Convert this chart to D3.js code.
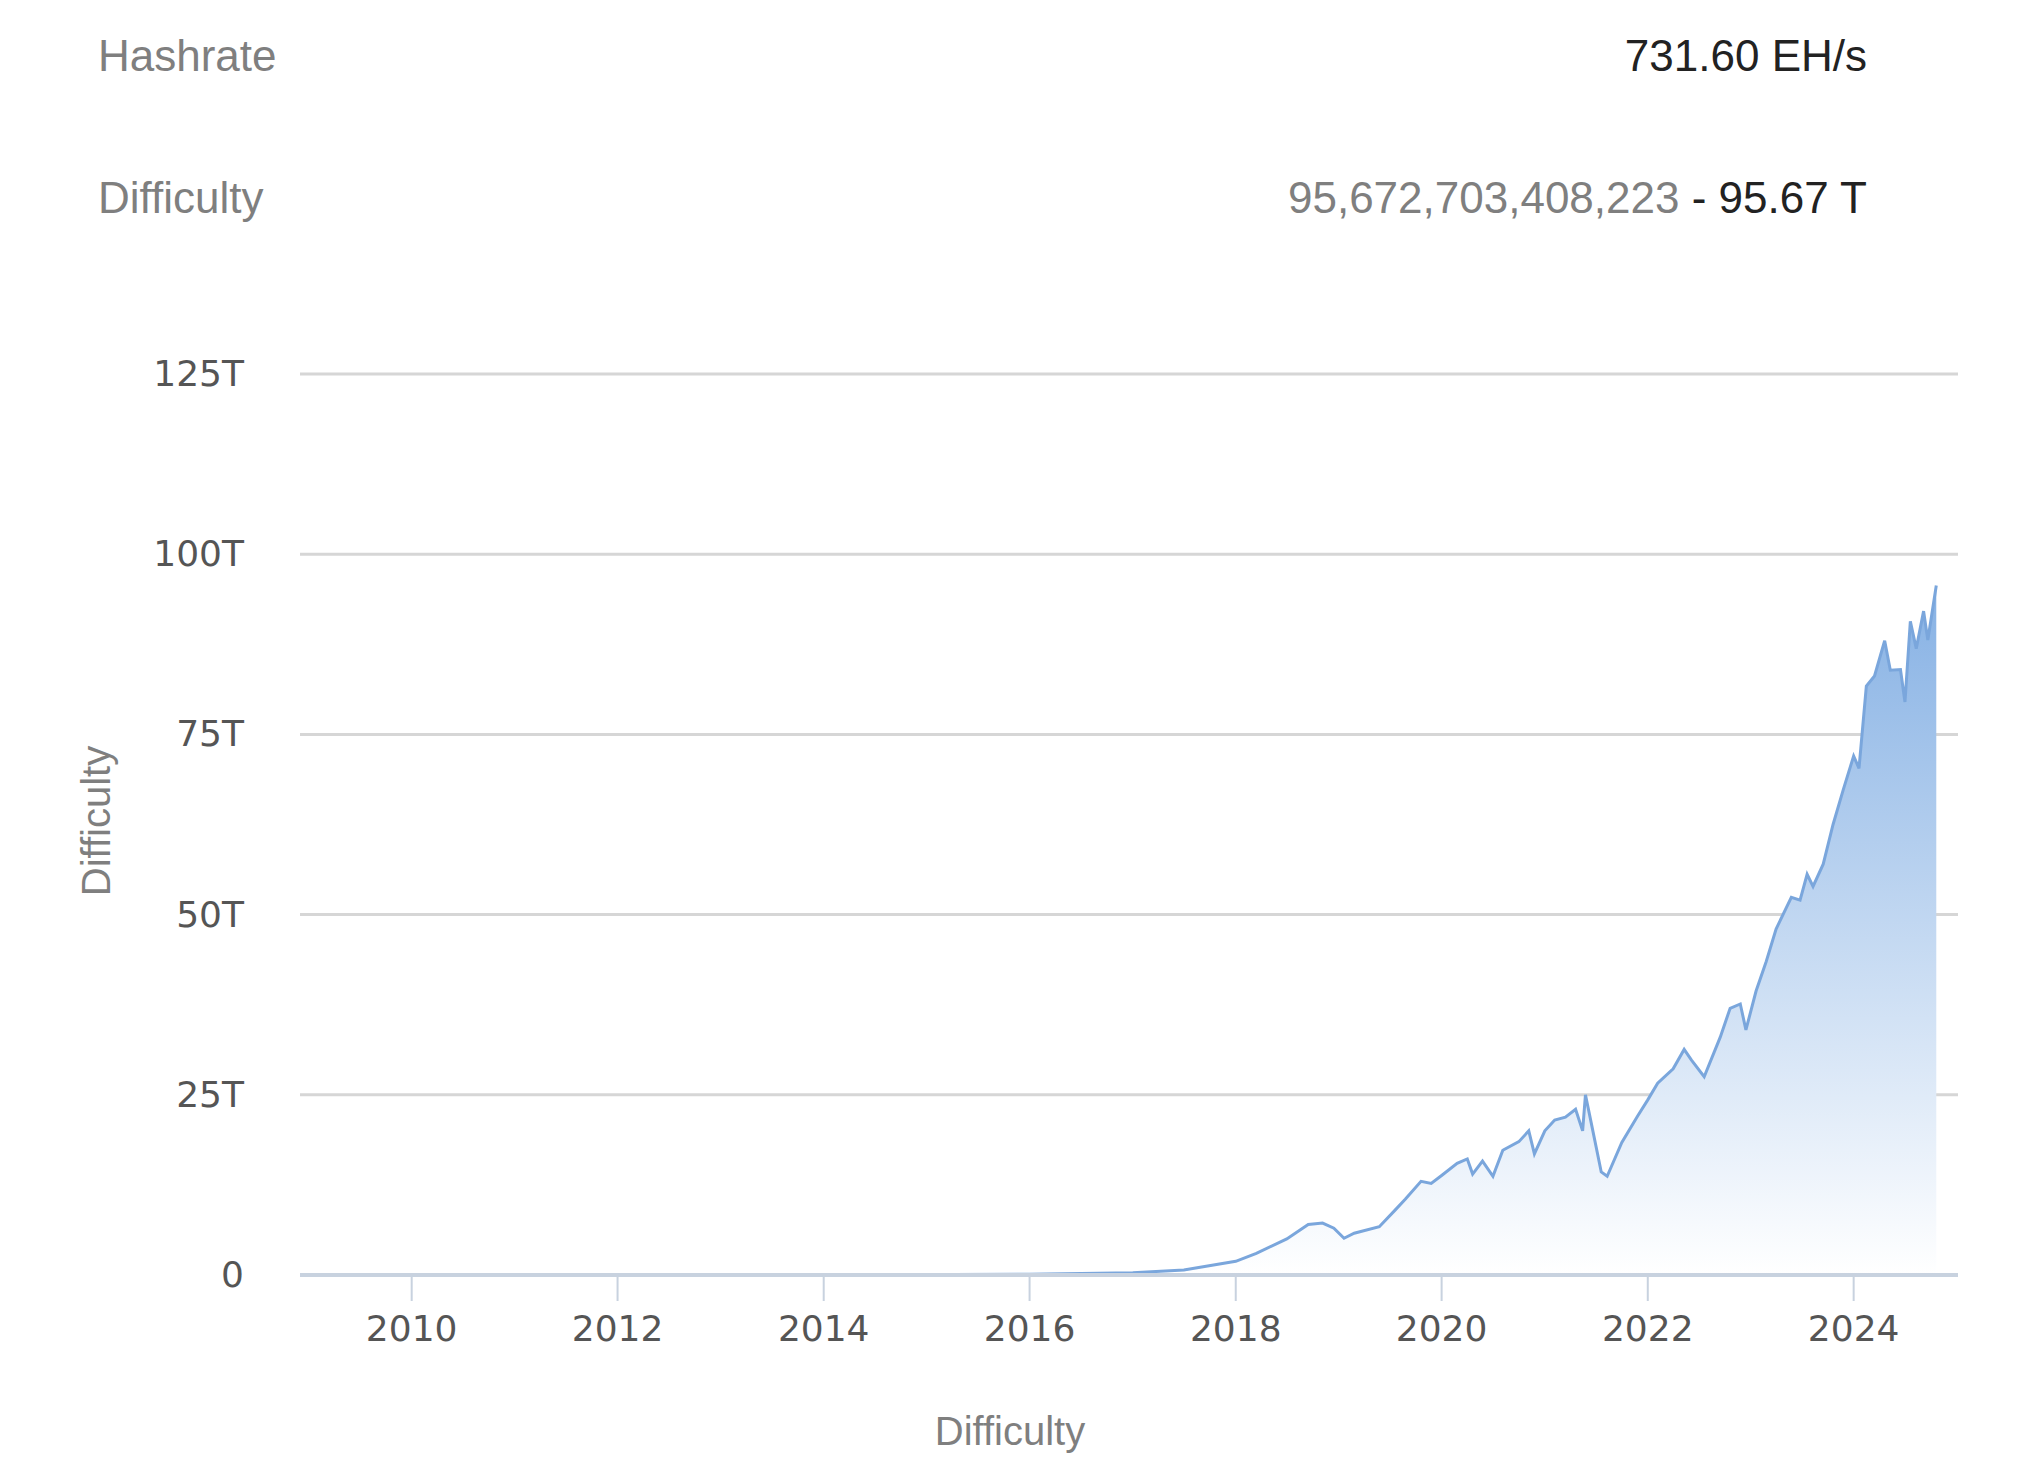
<!DOCTYPE html>
<html>
<head>
<meta charset="utf-8">
<script src="https://cdn.jsdelivr.net/npm/d3@7"></script>
<style>
  body { margin: 0; background: #fff; font-family: "Liberation Sans", Arial, sans-serif; }
</style>
</head>
<body>
<svg id="chart" width="2018" height="1463"></svg>
<script>
// difficulty in T
const dates = ['2009-01-03','2012-01-01','2014-01-01','2016-01-01','2017-01-01','2017-07-01','2018-01-01','2018-03-15','2018-07-01','2018-09-15','2018-11-05','2018-12-15','2019-01-20','2019-02-25','2019-05-25','2019-07-20','2019-08-25','2019-10-20','2019-11-25','2020-01-01','2020-02-25','2020-04-01','2020-04-20','2020-05-25','2020-07-01','2020-08-05','2020-10-01','2020-11-05','2020-11-25','2021-01-01','2021-02-05','2021-03-15','2021-04-20','2021-05-15','2021-05-25','2021-06-15','2021-07-20','2021-08-10','2021-10-01','2021-11-25','2022-01-01','2022-02-05','2022-04-01','2022-05-10','2022-06-05','2022-07-20','2022-09-15','2022-10-20','2022-11-25','2022-12-15','2023-01-20','2023-02-25','2023-04-01','2023-05-25','2023-06-25','2023-07-20','2023-08-10','2023-09-15','2023-10-20','2023-11-25','2024-01-01','2024-01-20','2024-02-15','2024-03-15','2024-04-20','2024-05-10','2024-06-15','2024-07-01','2024-07-20','2024-08-10','2024-09-05','2024-09-20','2024-10-20']
const difficulty = [0,0.002,0.01,0.1,0.3,0.7,1.9,3,5,7,7.2,6.5,5.1,5.8,6.7,9,10.5,13,12.7,13.8,15.5,16.1,14,15.8,13.7,17.3,18.5,20,16.8,20,21.5,21.9,23,20,25,21,14.3,13.7,18.4,22,24.3,26.6,28.6,31.3,29.8,27.5,33,37,37.6,34,39.4,43.5,48,52.4,52,55.6,53.9,57,62.5,67.3,72,70.3,81.7,83.1,88,83.9,84,79.5,90.7,86.9,92.1,88.1,95.67]
const yTicks = [0, 25, 50, 75, 100, 125]
const xTickYears = [2010, 2012, 2014, 2016, 2018, 2020, 2022, 2024]

const data = dates.map((d, i) => ({ date: new Date(d), value: difficulty[i] }))

const svg = d3.select('#chart')
const plotLeft = 300, plotRight = 1958, plotTop = 374, plotBottom = 1275

const x = d3.scaleTime()
  .domain([new Date('2008-12-01'), new Date('2025-01-05')])
  .range([plotLeft, plotRight])
const y = d3.scaleLinear().domain([0, 125]).range([plotBottom, plotTop])

// header
const header = [['Hashrate', 55], ['Difficulty', 197]]
header.forEach(([t, yy]) => {
  svg.append('text').text(t).attr('x', 98).attr('y', yy + 16)
    .attr('font-size', 44).attr('fill', '#7f7f7f')
})
svg.append('text').text('731.60 EH/s').attr('x', 1867).attr('y', 71)
  .attr('text-anchor', 'end').attr('font-size', 44).attr('fill', '#222')
const diffText = svg.append('text').attr('x', 1867).attr('y', 213)
  .attr('text-anchor', 'end').attr('font-size', 44)
diffText.append('tspan').text('95,672,703,408,223').attr('fill', '#7f7f7f')
diffText.append('tspan').text(' - 95.67 T').attr('fill', '#222')

// gridlines
svg.append('g').selectAll('line').data(yTicks.filter(d => d > 0)).join('line')
  .attr('x1', plotLeft).attr('x2', plotRight)
  .attr('y1', d => y(d)).attr('y2', d => y(d))
  .attr('stroke', '#d6d6d6').attr('stroke-width', 3)

svg.append('g').selectAll('text').data(yTicks).join('text')
  .text(d => d === 0 ? '0' : d + 'T')
  .attr('x', 244).attr('y', d => y(d) + 12)
  .attr('text-anchor', 'end').attr('font-size', 36)
  .attr('font-family', 'DejaVu Sans').attr('fill', '#555')

// area gradient
const grad = svg.append('defs').append('linearGradient')
  .attr('id', 'fill').attr('x1', 0).attr('x2', 0).attr('y1', 0).attr('y2', 1)
grad.append('stop').attr('offset', '0%').attr('stop-color', '#86b1e4')
grad.append('stop').attr('offset', '100%').attr('stop-color', '#ffffff')

svg.append('path').datum(data)
  .attr('d', d3.area().x(d => x(d.date)).y0(plotBottom).y1(d => y(d.value)))
  .attr('fill', 'url(#fill)')

svg.append('path').datum(data)
  .attr('d', d3.line().x(d => x(d.date)).y(d => y(d.value)))
  .attr('fill', 'none').attr('stroke', '#7aa6dc').attr('stroke-width', 3)

// x axis
svg.append('line').attr('x1', plotLeft).attr('x2', plotRight)
  .attr('y1', plotBottom).attr('y2', plotBottom)
  .attr('stroke', '#c8d2df').attr('stroke-width', 4)
const xt = svg.append('g').selectAll('g').data(xTickYears).join('g')
  .attr('transform', d => `translate(${x(new Date(d, 0, 1))},0)`)
xt.append('line').attr('y1', plotBottom).attr('y2', plotBottom + 26)
  .attr('stroke', '#c8d2df').attr('stroke-width', 2)
xt.append('text').text(d => d).attr('y', plotBottom + 66)
  .attr('text-anchor', 'middle').attr('font-size', 36)
  .attr('font-family', 'DejaVu Sans').attr('fill', '#555')

// axis titles
svg.append('text').text('Difficulty')
  .attr('transform', `translate(110,821) rotate(-90)`)
  .attr('text-anchor', 'middle').attr('font-size', 40).attr('fill', '#7f7f7f')
svg.append('text').text('Difficulty').attr('x', 1010).attr('y', 1445)
  .attr('text-anchor', 'middle').attr('font-size', 40).attr('fill', '#7f7f7f')
</script>
</body>
</html>
